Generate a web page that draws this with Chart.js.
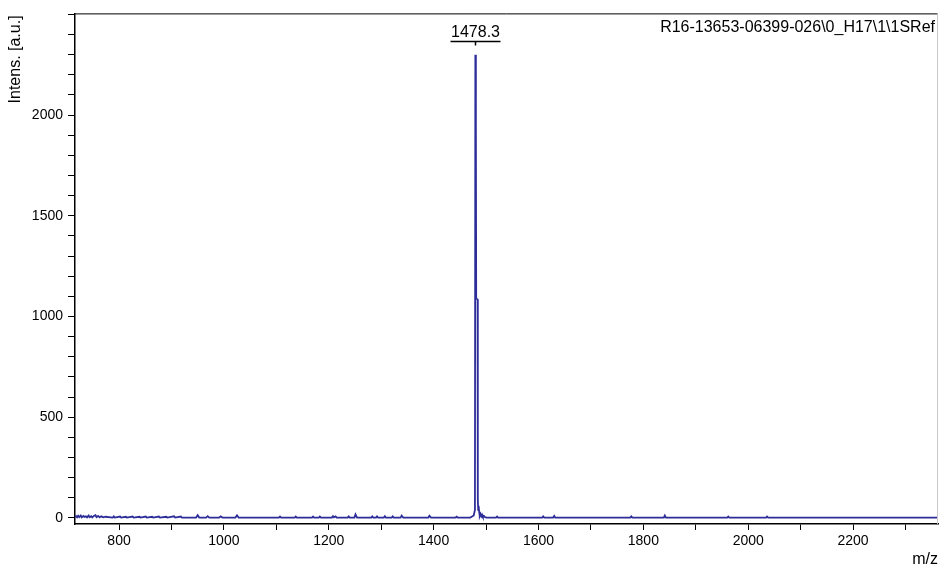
<!DOCTYPE html>
<html>
<head>
<meta charset="utf-8">
<script src="https://cdn.jsdelivr.net/npm/chart.js@4"></script>
<style>
  html, body { margin: 0; padding: 0; background: #fff; }
  #wrap { width: 939px; height: 569px; }
</style>
</head>
<body>
<div id="wrap"><canvas id="spec"></canvas></div>
<script>
// m/z and intensity
const mz = [
  716, 718, 720, 722, 724, 727, 729, 732, 734, 737, 739, 742, 744, 747, 749, 752, 755, 757, 760, 763, 766, 770, 774,
  788, 790, 792, 802, 804, 813, 815, 826, 828, 839, 841, 851, 853, 863, 865, 876, 878, 890, 892, 905, 907, 918, 920,
  947, 950, 953, 966, 969, 972, 991, 994, 997, 1022, 1025, 1028,
  1105, 1107, 1109, 1135, 1137, 1139, 1168, 1170, 1172, 1181, 1183, 1185,
  1206, 1208, 1210, 1213, 1215, 1236, 1238, 1240, 1249, 1251, 1254,
  1281, 1283, 1285, 1290, 1292, 1294, 1305, 1307, 1309, 1320, 1322, 1324, 1337, 1339, 1342,
  1390, 1392, 1395, 1442, 1444, 1446, 1470, 1474, 1476.5, 1478.8,
  1479.6, 1480.6, 1481.2, 1483.8, 1484.3, 1485, 1485.8, 1487, 1488, 1489.5, 1491, 1492.5, 1494, 1496, 1498, 1501,
  1519, 1521, 1523, 1607, 1609, 1611, 1628, 1630, 1632, 1775, 1777, 1779,
  1839, 1841, 1843, 1960, 1962, 1964, 2034, 2036, 2038, 2362
];
const intens = [
  4, 9, 3, 11, 4, 12, 3, 10, 5, 8, 3, 12, 4, 9, 3, 10, 14, 4, 10, 3, 8, 3, 6,
  2, 8, 2, 7, 2, 6, 2, 7, 2, 6, 2, 7, 2, 6, 2, 7, 2, 6, 2, 8, 2, 7, 2,
  2, 14, 2, 2, 9, 2, 2, 8, 2, 2, 13, 2,
  2, 7, 2, 2, 7, 2, 2, 7, 2, 2, 7, 2,
  2, 9, 3, 8, 2, 2, 8, 2, 2, 18, 2,
  2, 8, 2, 2, 8, 2, 2, 9, 2, 2, 8, 2, 2, 12, 2,
  2, 11, 2, 2, 6, 2, 2, 8, 12, 40,
  2300, 1960, 1090, 1085, 90, 40, 60, 28, 10, 20, 8, 16, 6, 10, 4, 2,
  2, 7, 2, 2, 8, 2, 2, 10, 2, 2, 8, 2,
  2, 12, 2, 2, 7, 2, 2, 7, 2, 2
];
const peakMz = 1478.3;
const peakY = 2300;
const peakLabel = "1478.3";
const sampleName = "R16-13653-06399-026\\0_H17\\1\\1SRef";
const xRange = [716, 2362];
const yRange = [-30, 2505];

const points = mz.map((v, i) => ({ x: v, y: intens[i] }));
const font = "Liberation Sans, Arial, Helvetica, sans-serif";

const annotate = {
  id: "annotate",
  afterDraw(chart) {
    const { ctx, chartArea: a, scales } = chart;
    ctx.save();
    // frame
    ctx.strokeStyle = "#000";
    ctx.lineWidth = 1;
    ctx.beginPath();
    ctx.moveTo(a.left, a.top + 0.5);
    ctx.lineTo(a.right, a.top + 0.5);
    ctx.stroke();
    ctx.strokeStyle = "#c8c8c8";
    ctx.beginPath();
    ctx.moveTo(a.right - 0.5, a.top);
    ctx.lineTo(a.right - 0.5, a.bottom);
    ctx.stroke();

    // peak label
    const px = Math.round(scales.x.getPixelForValue(peakMz)) + 0.5;
    const py = scales.y.getPixelForValue(peakY);
    const barY = Math.round(py - 14) + 0.5;
    ctx.strokeStyle = "#000";
    ctx.lineWidth = 1.5;
    ctx.beginPath();
    ctx.moveTo(px - 25, barY);
    ctx.lineTo(px + 25, barY);
    ctx.moveTo(px, barY);
    ctx.lineTo(px, barY + 4);
    ctx.stroke();
    ctx.fillStyle = "#000";
    ctx.font = "16px " + font;
    ctx.textAlign = "center";
    ctx.textBaseline = "alphabetic";
    ctx.fillText(peakLabel, px, barY - 5);

    // sample name
    ctx.textAlign = "right";
    ctx.textBaseline = "middle";
    ctx.fillText(sampleName, a.right - 3, a.top + 14);

    // axis titles
    ctx.fillText("m/z", 938, 560);
    ctx.translate(16, a.top + 2);
    ctx.rotate(-Math.PI / 2);
    ctx.textAlign = "right";
    ctx.fillText("Intens. [a.u.]", 0, 0);
    ctx.restore();
  }
};

new Chart(document.getElementById("spec"), {
  type: "scatter",
  data: {
    datasets: [{
      data: points,
      showLine: true,
      borderColor: "#2d2d9a",
      borderWidth: 1.8,
      pointRadius: 0,
      tension: 0
    }]
  },
  options: {
    responsive: true,
    maintainAspectRatio: false,
    animation: false,
    layout: { padding: { top: 10, right: 1, left: 0, bottom: 0 } },
    plugins: { legend: { display: false }, tooltip: { enabled: false } },
    scales: {
      x: {
        type: "linear",
        min: xRange[0],
        max: xRange[1],
        afterFit(s) { s.height = 45; },
        border: { color: "#000", width: 1.5 },
        grid: { drawOnChartArea: false, drawTicks: true, tickLength: 6, color: "#000" },
        ticks: {
          stepSize: 100,
          includeBounds: false,
          autoSkip: false,
          maxRotation: 0,
          padding: 3,
          color: "#000",
          font: { family: font, size: 14 },
          callback: v => (v % 200 === 0 ? String(v) : "")
        }
      },
      y: {
        type: "linear",
        min: yRange[0],
        max: yRange[1],
        afterFit(s) { s.width = 75; },
        border: { color: "#000", width: 1.5 },
        grid: { drawOnChartArea: false, drawTicks: true, tickLength: 7, color: "#000" },
        ticks: {
          stepSize: 100,
          includeBounds: false,
          autoSkip: false,
          padding: 5,
          color: "#000",
          font: { family: font, size: 14 },
          callback: v => (v % 500 === 0 && v < 2500 ? String(v) : "")
        }
      }
    }
  },
  plugins: [annotate]
});
</script>
</body>
</html>
